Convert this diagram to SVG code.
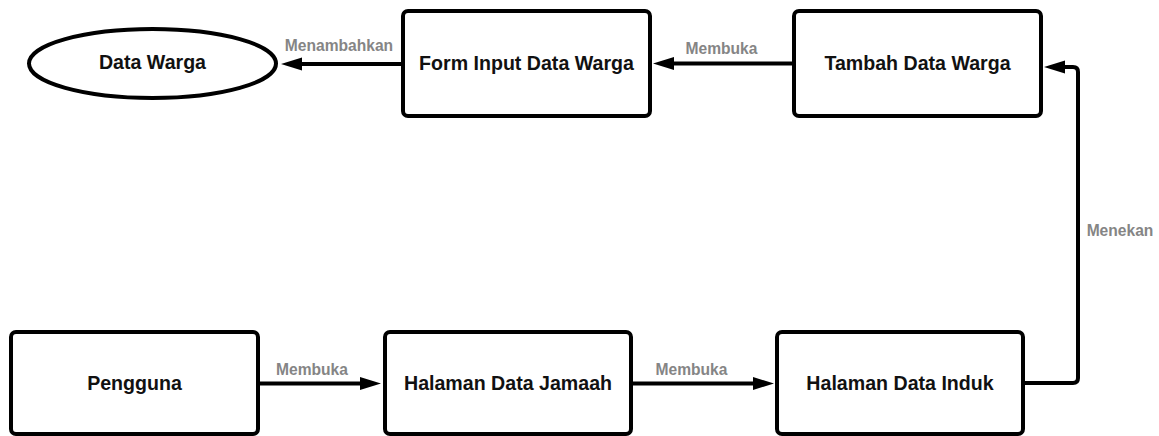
<svg xmlns="http://www.w3.org/2000/svg" width="1159" height="436" viewBox="0 0 1159 436">
  <style>
    .node { fill: #ffffff; stroke: #000000; stroke-width: 4; }
    .ntext { font-family: "Liberation Sans", Arial, sans-serif; font-weight: bold; font-size: 19.6px; fill: #111111; text-anchor: middle; }
    .edge { fill: none; stroke: #000000; stroke-width: 4; stroke-linejoin: round; }
    .elabel { font-family: "Liberation Sans", Arial, sans-serif; font-weight: bold; font-size: 15.6px; fill: #858585; text-anchor: middle; }
  </style>
  <defs>
    <marker id="arrow" markerUnits="userSpaceOnUse" markerWidth="22" markerHeight="14" refX="0" refY="6.5" orient="auto" overflow="visible">
      <path d="M0,0 L21,6.5 L0,13 Z" fill="#000000"/>
    </marker>
  </defs>
  <rect width="1159" height="436" fill="#ffffff"/>

  <!-- connectors -->
  <g id="connectors">
    <path class="edge" d="M401,64 L302,64" marker-end="url(#arrow)"/>
    <text class="elabel" x="339" y="51">Menambahkan</text>

    <path class="edge" d="M792,63.5 L674,63.5" marker-end="url(#arrow)"/>
    <text class="elabel" x="721.5" y="54">Membuka</text>

    <path class="edge" d="M260,383.5 L360,383.5" marker-end="url(#arrow)"/>
    <text class="elabel" x="312" y="375">Membuka</text>

    <path class="edge" d="M633,383.5 L753,383.5" marker-end="url(#arrow)"/>
    <text class="elabel" x="691.5" y="375">Membuka</text>

    <path class="edge" d="M1025,383 L1073,383 Q1078,383 1078,378 L1078,72 Q1078,67 1073,67 L1065,67" marker-end="url(#arrow)"/>
    <text class="elabel" x="1120" y="236">Menekan</text>
  </g>

  <!-- nodes -->
  <g id="data-warga">
    <ellipse class="node" cx="152.5" cy="63.5" rx="123.5" ry="34.5"/>
    <text class="ntext" x="152.5" y="69">Data Warga</text>
  </g>
  <g id="form-input-data-warga">
    <rect class="node" x="403" y="11" width="247" height="105" rx="5"/>
    <text class="ntext" x="526.5" y="70">Form Input Data Warga</text>
  </g>
  <g id="tambah-data-warga">
    <rect class="node" x="794" y="11" width="247" height="105" rx="5"/>
    <text class="ntext" x="917.5" y="70">Tambah Data Warga</text>
  </g>
  <g id="pengguna">
    <rect class="node" x="11" y="332" width="247" height="102" rx="5"/>
    <text class="ntext" x="134.5" y="390">Pengguna</text>
  </g>
  <g id="halaman-data-jamaah">
    <rect class="node" x="385" y="332" width="246" height="102" rx="5"/>
    <text class="ntext" x="508" y="390">Halaman Data Jamaah</text>
  </g>
  <g id="halaman-data-induk">
    <rect class="node" x="777" y="332" width="246" height="102" rx="5"/>
    <text class="ntext" x="900" y="390">Halaman Data Induk</text>
  </g>
</svg>
